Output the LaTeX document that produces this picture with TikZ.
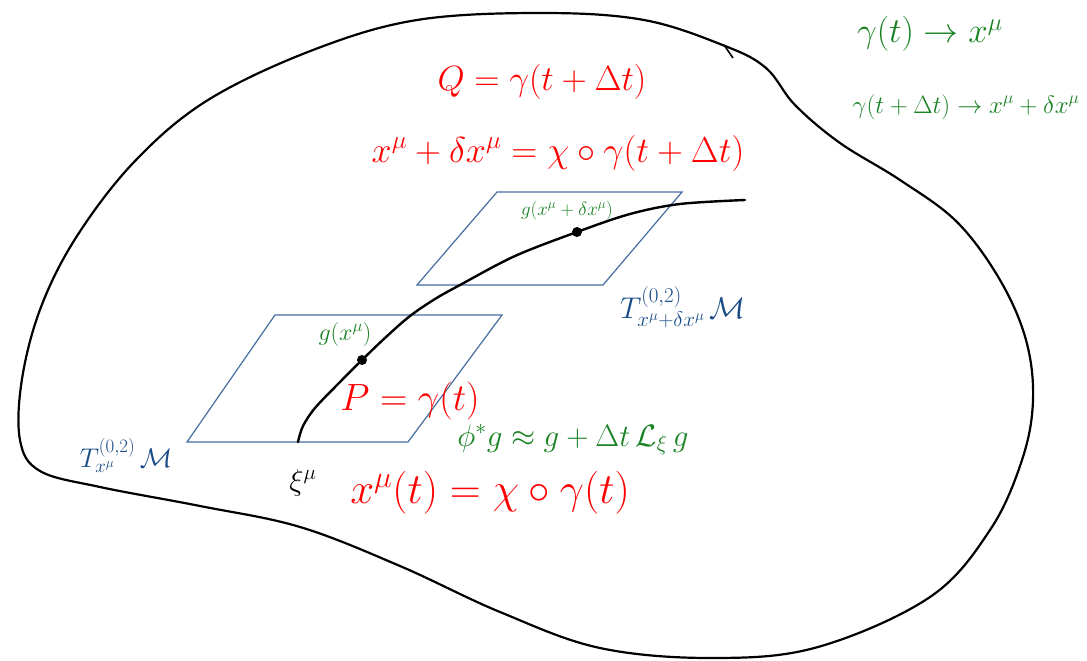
\documentclass[tikz,border=0pt]{standalone}
\usepackage{fix-cm}
\usepackage{amsmath}
\definecolor{hgreen}{RGB}{25,130,35}
\definecolor{hblue}{RGB}{25,75,135}
\definecolor{pblue}{RGB}{70,110,160}
\tikzset{
  outline/.style={line width=2.2pt, black, line join=round},
  curve/.style={line width=2.4pt, black, line cap=round},
  plane/.style={line width=1.2pt, pblue, line join=miter},
  dotpt/.style={circle, fill=black, inner sep=0pt, minimum size=10pt},
  lbl/.style={inner sep=0pt, anchor=base},
  redtxt/.style={lbl, text=red},
  greentxt/.style={lbl, text=hgreen},
  bluetxt/.style={lbl, text=hblue},
  fs/.style={font=\fontsize{#1}{#1}\selectfont}
}
\begin{document}
\begin{tikzpicture}[x=1pt,y=-1pt]
\useasboundingbox (0,0) rectangle (1087,661);
\fill[white] (0,0) rectangle (1087,661);

% manifold outline
\draw[outline] plot[smooth cycle, tension=0.6] coordinates{
 (417,20) (542,13) (644,20) (725,46) (766,68) (795,105) (840,143) (900,180)
 (957,222) (1000,280) (1026,340) (1033,400) (1022,460) (990,530) (930,597)
 (818,647) (714,658) (600,648) (500,612) (400,566) (300,527) (200,506)
 (100,487) (40,471) (20,440) (22,379) (41,307) (77,236) (135,161) (208,100)
 (313,50)};
\draw[line width=1.6pt] (724,45) -- (733,58);

% tangent planes
\draw[plane] (497,192) -- (682,192) -- (603,285) -- (417,285) -- cycle;
\draw[plane] (275,315) -- (502,315) -- (408,442) -- (187,442) -- cycle;

% curve gamma
\node[dotpt] (P) at (362,360) {};
\node[dotpt] (Qd) at (577,232) {};
\draw[curve] plot[smooth, tension=0.55] coordinates{
 (298,442) (303,426) (315,408) (338,384) (362,360) (386,337) (410,316)
 (435,299) (460,285) (515,256) (577,232) (630,214) (680,204) (745,200)};

% red labels
\node[redtxt, fs=35] (lq) at (542,90) {$Q=\gamma(t+\Delta t)$};
\node[redtxt, fs=36] (lxq) at (558,162) {$x^{\mu}+\delta x^{\mu}=\chi\circ\gamma(t+\Delta t)$};
\node[redtxt, fs=38] (lp) at (410,410) {$P=\gamma(t)$};
\node[redtxt, fs=43] (lxp) at (490,503) {$x^{\mu}(t)=\chi\circ\gamma(t)$};

% green labels
\node[greentxt, fs=35] (m1) at (930,43) {$\gamma(t)\to x^{\mu}$};
\node[greentxt, fs=25] (m2) at (966,113) {$\gamma(t+\Delta t)\to x^{\mu}+\delta x^{\mu}$};
\node[greentxt, fs=31] (lie) at (573,446) {$\phi^{*}g\approx g+\Delta t\,\mathcal{L}_{\xi}\,g$};
\node[greentxt, fs=24] (gp) at (345,340) {$g(x^{\mu})$};
\node[greentxt, fs=19] (gq) at (567,215) {$g(x^{\mu}+\delta x^{\mu})$};

% black xi
\node[lbl, fs=30] (xi) at (303,490) {$\xi^{\mu}$};

% blue labels
\node[bluetxt, fs=27] (tp) at (126,467) {$T^{(0,2)}_{x^{\mu}}\,\mathcal{M}$};
\node[bluetxt, fs=30] (tq) at (683,318) {$T^{(0,2)}_{x^{\mu}+\delta x^{\mu}}\,\mathcal{M}$};
\end{tikzpicture}
\end{document}
